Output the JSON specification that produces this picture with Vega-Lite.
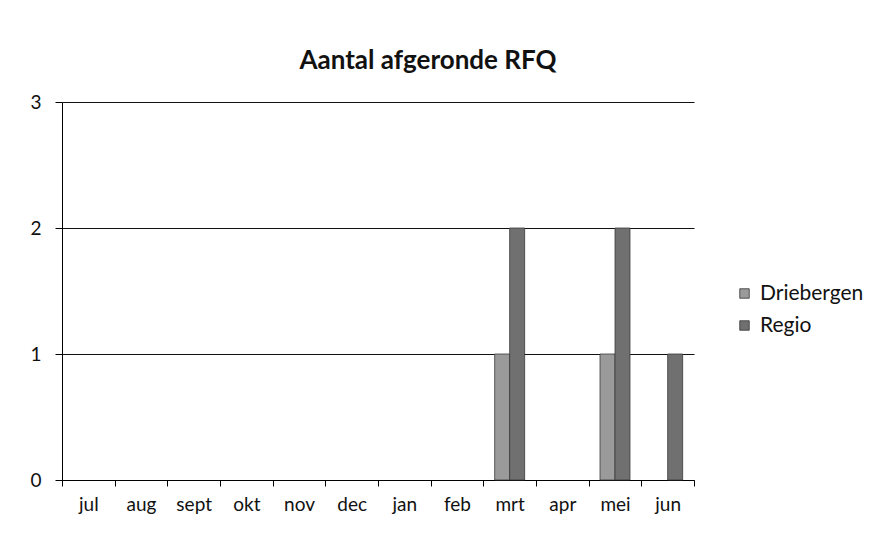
{
  "$schema": "https://vega.github.io/schema/vega-lite/v6.json",
  "autosize": "none",
  "width": 632,
  "height": 378,
  "padding": {"left": 62, "top": 102, "right": 180, "bottom": 56},
  "background": "white",
  "title": {
    "text": "Aantal afgeronde RFQ",
    "font": "Lato",
    "fontSize": 26,
    "fontWeight": "bold",
    "color": "#111",
    "anchor": "middle",
    "dx": 50,
    "offset": 19
  },
  "data": {
    "values": [
      {"maand": "jul", "reeks": "Driebergen", "aantal": 0},
      {"maand": "jul", "reeks": "Regio", "aantal": 0},
      {"maand": "aug", "reeks": "Driebergen", "aantal": 0},
      {"maand": "aug", "reeks": "Regio", "aantal": 0},
      {"maand": "sept", "reeks": "Driebergen", "aantal": 0},
      {"maand": "sept", "reeks": "Regio", "aantal": 0},
      {"maand": "okt", "reeks": "Driebergen", "aantal": 0},
      {"maand": "okt", "reeks": "Regio", "aantal": 0},
      {"maand": "nov", "reeks": "Driebergen", "aantal": 0},
      {"maand": "nov", "reeks": "Regio", "aantal": 0},
      {"maand": "dec", "reeks": "Driebergen", "aantal": 0},
      {"maand": "dec", "reeks": "Regio", "aantal": 0},
      {"maand": "jan", "reeks": "Driebergen", "aantal": 0},
      {"maand": "jan", "reeks": "Regio", "aantal": 0},
      {"maand": "feb", "reeks": "Driebergen", "aantal": 0},
      {"maand": "feb", "reeks": "Regio", "aantal": 0},
      {"maand": "mrt", "reeks": "Driebergen", "aantal": 1},
      {"maand": "mrt", "reeks": "Regio", "aantal": 2},
      {"maand": "apr", "reeks": "Driebergen", "aantal": 0},
      {"maand": "apr", "reeks": "Regio", "aantal": 0},
      {"maand": "mei", "reeks": "Driebergen", "aantal": 1},
      {"maand": "mei", "reeks": "Regio", "aantal": 2},
      {"maand": "jun", "reeks": "Driebergen", "aantal": 0},
      {"maand": "jun", "reeks": "Regio", "aantal": 1}
    ]
  },
  "mark": {"type": "bar", "strokeWidth": 0.8},
  "encoding": {
    "x": {
      "field": "maand",
      "type": "nominal",
      "sort": ["jul", "aug", "sept", "okt", "nov", "dec", "jan", "feb", "mrt", "apr", "mei", "jun"],
      "scale": {"paddingInner": 0, "paddingOuter": 0},
      "axis": {
        "title": null,
        "labelAngle": 0,
        "tickBand": "extent",
        "tickSize": 6,
        "tickColor": "#000",
        "domainColor": "#000",
        "labelFont": "Lato",
        "labelFontSize": 19,
        "labelColor": "#111",
        "labelPadding": 9,
        "grid": false
      }
    },
    "xOffset": {
      "field": "reeks",
      "type": "nominal",
      "scale": {"paddingInner": 0, "paddingOuter": 0.757}
    },
    "y": {
      "field": "aantal",
      "type": "quantitative",
      "scale": {"domain": [0, 3], "nice": false},
      "axis": {
        "title": null,
        "values": [0, 1, 2, 3],
        "format": "d",
        "tickSize": 7,
        "tickColor": "#000",
        "domainColor": "#000",
        "gridColor": "#111",
        "gridWidth": 1,
        "labelFont": "Lato",
        "labelFontSize": 19,
        "labelColor": "#111",
        "labelPadding": 14
      }
    },
    "stroke": {
      "condition": {"test": "datum.aantal > 0", "value": "#3a3a3a"},
      "value": null
    },
    "color": {
      "field": "reeks",
      "type": "nominal",
      "scale": {"domain": ["Driebergen", "Regio"], "range": ["#9a9a9a", "#707070"]},
      "legend": {
        "title": null,
        "orient": "none",
        "legendX": 672,
        "legendY": 181,
        "symbolType": "square",
        "symbolSize": 90,
        "symbolStrokeColor": "#333",
        "symbolStrokeWidth": 0.8,
        "labelFont": "Lato",
        "labelFontSize": 21,
        "labelColor": "#111",
        "rowPadding": 10,
        "labelOffset": 5
      }
    }
  },
  "config": {
    "view": {"stroke": null},
    "axis": {"domainWidth": 1, "tickWidth": 1}
  }
}
